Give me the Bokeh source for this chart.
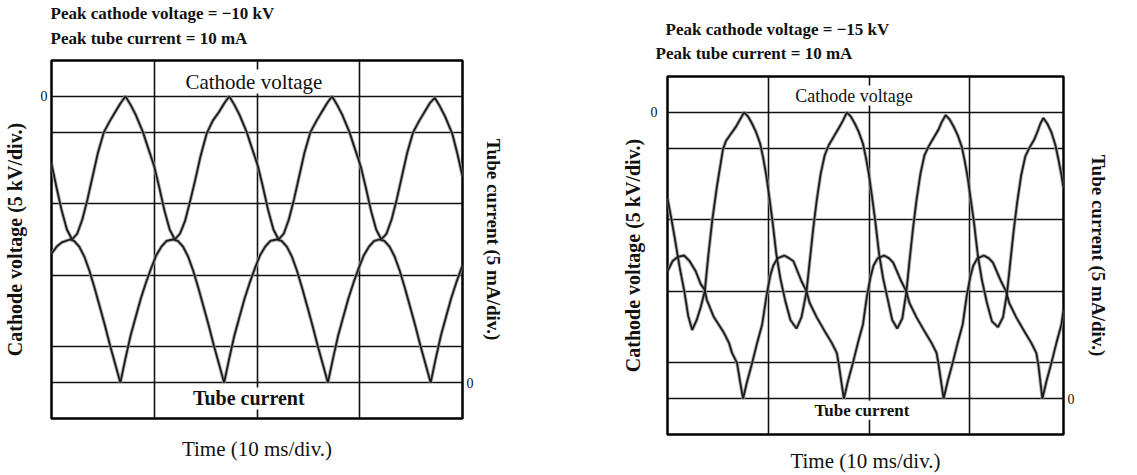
from bokeh.plotting import figure
from bokeh.layouts import row, column
from bokeh.models import Range1d, LinearAxis, FixedTicker, Label, Title
from bokeh.embed import file_html
from bokeh.resources import INLINE

# ---------------- data ----------------
# Left panel: peak cathode voltage = -10 kV, peak tube current = 10 mA
left_v_t = [0.0, 0.5, 1.0, 1.5, 2.0, 2.5, 3.0, 3.5, 4.0, 4.5, 5.1, 5.7, 6.2, 6.7, 7.2, 7.7, 8.2, 8.9, 9.4, 10.0,
            10.5, 11.0, 11.5, 12.0, 12.5, 13.0, 13.5, 14.0, 14.5, 15.1, 15.7, 16.3, 16.8, 17.3, 17.8, 18.3, 19.0,
            19.5, 20.1, 20.6, 21.1, 21.6, 22.1, 22.6, 23.1, 23.6, 24.1, 24.6, 25.2, 25.8, 26.3, 26.8, 27.3, 27.8,
            28.3, 29.0, 29.5, 30.1, 30.6, 31.1, 31.6, 32.1, 32.6, 33.1, 33.6, 34.1, 34.6, 35.2, 35.8, 36.3, 36.8,
            37.3, 37.8, 38.3, 39.0, 39.5, 40.0]
left_v_kv = [-4.7, -6.4, -8.0, -9.3, -10.0, -9.6, -8.6, -7.2, -5.6, -4.0, -2.5, -1.7, -1.1, -0.5, 0.0, -0.6, -1.3,
             -2.5, -3.6, -4.9, -6.4, -8.0, -9.3, -10.0, -9.6, -8.7, -7.3, -5.8, -4.2, -2.6, -1.7, -1.1, -0.5, 0.0,
             -0.6, -1.3, -2.5, -3.6, -4.9, -6.4, -8.0, -9.3, -10.0, -9.6, -8.6, -7.2, -5.6, -4.0, -2.5, -1.7, -1.1,
             -0.5, 0.0, -0.6, -1.3, -2.5, -3.6, -4.9, -6.4, -8.0, -9.3, -10.0, -9.6, -8.6, -7.2, -5.6, -4.0, -2.5,
             -1.7, -1.1, -0.5, -0.1, -0.7, -1.4, -2.6, -4.0, -5.6]
left_i_t = [0.0, 0.5, 1.0, 1.8, 2.2, 2.7, 3.2, 3.7, 4.2, 4.7, 5.2, 5.7, 6.2, 6.7, 7.2, 7.7, 8.2, 8.7, 9.2, 9.7,
            10.2, 10.7, 11.2, 11.8, 12.3, 12.8, 13.3, 13.8, 14.3, 14.8, 15.3, 15.8, 16.3, 16.8, 17.3, 17.8, 18.3,
            18.8, 19.3, 19.8, 20.3, 20.8, 21.3, 21.9, 22.4, 22.9, 23.4, 23.9, 24.4, 24.9, 25.4, 25.9, 26.4, 26.9,
            27.4, 27.9, 28.4, 28.9, 29.4, 29.9, 30.4, 30.9, 31.4, 31.9, 32.4, 32.9, 33.4, 33.9, 34.4, 34.9, 35.4,
            35.9, 36.4, 36.9, 37.4, 37.9, 38.4, 38.9, 39.4, 40.0]
left_i_ma = [9.0, 9.5, 9.8, 10.0, 9.9, 9.5, 8.8, 7.8, 6.6, 5.3, 4.0, 2.6, 1.3, 0.0, 1.7, 3.3, 4.6, 5.9, 7.0, 8.0,
             8.9, 9.5, 9.9, 10.0, 9.9, 9.5, 8.8, 7.8, 6.6, 5.3, 4.0, 2.6, 1.3, 0.0, 1.7, 3.3, 4.6, 5.9, 7.0, 8.0,
             8.9, 9.5, 9.9, 10.0, 9.9, 9.5, 8.8, 7.8, 6.6, 5.3, 4.0, 2.6, 1.3, 0.0, 1.7, 3.3, 4.6, 5.9, 7.0, 8.0,
             8.9, 9.5, 9.9, 10.0, 9.9, 9.5, 8.8, 7.8, 6.6, 5.3, 4.0, 2.6, 1.3, 0.0, 1.7, 3.3, 4.6, 5.9, 7.0, 8.2]

# Right panel: peak cathode voltage = -15 kV, peak tube current = 10 mA
right_v_t = [0.0, 0.35, 0.7, 1.2, 1.67, 2.05, 2.45, 2.9, 3.3, 3.7, 4.05, 4.45, 4.9, 5.5, 5.8, 6.3, 6.8, 7.2, 7.6,
             8.0, 8.4, 8.8, 9.2, 9.5, 9.8, 10.1, 10.4, 10.8, 11.2, 11.7, 12.2, 12.8, 13.3, 13.8, 14.1, 14.45, 14.8,
             15.2, 15.6, 16.0, 16.5, 17.0, 17.4, 17.8, 18.2, 18.6, 19.0, 19.4, 19.7, 20.0, 20.3, 20.6, 21.0, 21.4,
             21.9, 22.3, 22.8, 23.3, 23.7, 24.0, 24.35, 24.7, 25.1, 25.5, 25.9, 26.4, 26.9, 27.2, 27.6, 28.0, 28.4,
             28.8, 29.2, 29.5, 29.8, 30.1, 30.4, 30.8, 31.2, 31.7, 32.2, 32.8, 33.3, 33.7, 34.0, 34.35, 34.7, 35.1,
             35.5, 35.9, 36.4, 36.8, 37.0, 37.3, 37.7, 38.1, 38.5, 38.8, 39.1, 39.3]
right_v_kv = [-6.0, -7.3, -8.7, -10.8, -12.5, -14.2, -15.2, -14.5, -13.6, -12.5, -10.0, -7.5, -5.2, -2.6, -2.0, -1.5,
              -1.0, -0.5, 0.0, -0.3, -0.8, -1.4, -2.2, -3.2, -4.4, -5.9, -7.5, -9.9, -11.6, -13.2, -14.5, -15.1,
              -14.3, -12.5, -10.5, -8.2, -6.2, -4.3, -3.0, -2.3, -1.7, -1.1, -0.6, 0.0, -0.3, -0.8, -1.4, -2.2, -3.2,
              -4.4, -5.9, -7.5, -9.9, -11.6, -13.2, -14.5, -15.1, -14.4, -12.6, -10.5, -8.2, -6.2, -4.3, -3.0, -2.4,
              -1.8, -1.2, -0.7, -0.2, -0.5, -1.0, -1.6, -2.4, -3.4, -4.6, -6.1, -7.6, -10.0, -11.7, -13.3, -14.6,
              -15.0, -14.3, -12.6, -10.6, -8.3, -6.3, -4.4, -3.1, -2.5, -1.9, -1.2, -0.8, -0.4, -0.8, -1.4, -2.3,
              -3.3, -4.4, -5.3]
right_i_t = [0.0, 0.5, 1.0, 1.65, 2.2, 2.8, 3.3, 3.7, 3.9, 4.6, 5.6, 6.1, 6.4, 6.9, 7.2, 7.5, 7.9, 8.4, 8.9, 9.4,
             9.85, 10.2, 10.5, 10.9, 11.6, 12.1, 12.5, 13.3, 13.8, 14.1, 14.8, 15.7, 16.3, 16.8, 17.0, 17.25, 17.5,
             17.9, 18.4, 18.9, 19.4, 19.8, 20.15, 20.45, 20.85, 21.5, 22.0, 22.4, 23.2, 23.7, 24.0, 24.7, 25.6,
             26.2, 26.7, 26.9, 27.15, 27.4, 27.8, 28.3, 28.8, 29.3, 29.7, 30.05, 30.35, 30.75, 31.4, 31.9, 32.3,
             33.1, 33.6, 33.9, 34.6, 35.5, 36.1, 36.6, 36.8, 37.0, 37.2, 37.6, 38.1, 38.6, 39.1, 39.3]
right_i_ma = [8.9, 9.6, 9.9, 10.0, 9.6, 8.9, 8.0, 7.6, 6.9, 5.7, 4.6, 3.9, 3.2, 2.5, 1.2, 0.0, 1.2, 2.5, 3.9, 5.2,
              7.3, 8.6, 9.3, 9.8, 10.0, 9.8, 9.6, 8.2, 7.5, 6.7, 5.7, 4.6, 3.9, 3.2, 2.4, 1.2, 0.0, 1.2, 2.5, 3.9,
              5.2, 7.2, 8.5, 9.3, 9.8, 10.0, 9.8, 9.5, 8.2, 7.5, 6.7, 5.7, 4.6, 3.9, 3.2, 2.4, 1.2, 0.0, 1.2, 2.5,
              3.9, 5.2, 7.2, 8.5, 9.3, 9.8, 10.0, 9.8, 9.5, 8.2, 7.5, 6.7, 5.7, 4.6, 3.9, 3.2, 2.4, 1.2, 0.0, 1.2,
              2.5, 3.9, 5.2, 6.2]

# grid / tick positions
time_grid_ms = [10, 20, 30]
volt_grid_kv = [0, -2.5, -7.5, -12.5, -17.5, -20]
volt_ticks = [0]
curr_ticks = [0]
volt_range = (-22.5, 2.5)
curr_range = (-2.5, 22.5)

titles_left = ["Peak cathode voltage = \u221210 kV", "Peak tube current = 10 mA"]
titles_right = ["Peak cathode voltage = \u221215 kV", "Peak tube current = 10 mA"]

SERIF = "Liberation Serif"
INK = "#111111"


def make_title(txt, off, sto):
    kw = dict(text=txt, align="left", offset=off, text_font=SERIF, text_font_style="bold",
              text_font_size="17px", text_line_height=0.8, text_color=INK)
    try:
        return Title(standoff=sto, **kw)
    except Exception:
        return Title(standoff=0, **kw)


def make_panel(width, height, borders, t_end, vt, vv, it, ii, titles, title_cfg, inner, std):
    bl, br, bt, bb = borders
    p = figure(width=width, height=height, output_backend="svg", toolbar_location=None,
               x_range=Range1d(0, t_end), y_range=Range1d(*volt_range),
               min_border_left=bl, min_border_right=br, min_border_top=bt, min_border_bottom=bb,
               background_fill_color="white", border_fill_color="white")
    p.extra_y_ranges = {"cur": Range1d(*curr_range)}
    p.outline_line_color = "black"
    p.outline_line_width = 2.5

    # grids
    p.xgrid.ticker = FixedTicker(ticks=time_grid_ms)
    p.ygrid.ticker = FixedTicker(ticks=volt_grid_kv)
    for g in (p.xgrid, p.ygrid):
        g.grid_line_color = INK
        g.grid_line_width = 1.6
        g.grid_line_alpha = 1.0

    # axes
    xa = p.xaxis[0]
    xa.ticker = FixedTicker(ticks=[])
    xa.axis_label = "Time (10 ms/div.)"
    xa.axis_line_color = None
    xa.major_tick_line_color = None
    xa.minor_tick_line_color = None
    xa.major_tick_out = 0
    xa.axis_label_text_font = SERIF
    xa.axis_label_text_font_style = "normal"
    xa.axis_label_text_font_size = "21px"
    xa.axis_label_text_color = INK
    xa.axis_label_standoff = std[0]

    ya = p.yaxis[0]
    ya.ticker = FixedTicker(ticks=volt_ticks)
    ya.axis_label = "Cathode voltage (5 kV/div.)"
    ya.axis_line_color = None
    ya.major_tick_line_color = None
    ya.minor_tick_line_color = None
    ya.major_tick_out = 0
    ya.major_label_standoff = std[1]
    ya.major_label_text_font = SERIF
    ya.major_label_text_font_size = "14px"
    ya.major_label_text_color = INK
    ya.axis_label_text_font = SERIF
    ya.axis_label_text_font_style = "bold"
    ya.axis_label_text_font_size = "20px"
    ya.axis_label_text_color = INK
    ya.axis_label_standoff = std[2]

    ra = LinearAxis(y_range_name="cur", ticker=FixedTicker(ticks=curr_ticks),
                    axis_label="Tube current (5 mA/div.)")
    ra.axis_line_color = None
    ra.major_tick_line_color = None
    ra.minor_tick_line_color = None
    ra.major_tick_out = 0
    ra.major_label_standoff = std[3]
    ra.major_label_text_font = SERIF
    ra.major_label_text_font_size = "14px"
    ra.major_label_text_color = INK
    ra.axis_label_text_font = SERIF
    ra.axis_label_text_font_style = "bold"
    ra.axis_label_text_font_size = "19px"
    ra.axis_label_text_color = INK
    ra.axis_label_standoff = std[4]
    p.add_layout(ra, "right")

    # traces: grey halo under black trace
    p.line(vt, vv, line_color="#9a9a9a", line_width=3.6, line_alpha=0.8)
    p.line(it, ii, line_color="#9a9a9a", line_width=3.6, line_alpha=0.8, y_range_name="cur")
    p.line(vt, vv, line_color="#1c1c1c", line_width=1.8)
    p.line(it, ii, line_color="#1c1c1c", line_width=1.8, y_range_name="cur")

    # header lines (closest to the frame first)
    p.title = None
    for txt, (off, sto) in reversed(list(zip(titles, title_cfg))):
        p.add_layout(make_title(txt, off, sto), "above")
    # inner trace names
    for txt, x, y, fs, style in inner:
        p.add_layout(Label(x=x, y=y, text=txt, text_font=SERIF, text_font_size=fs,
                           text_font_style=style, text_baseline="middle", text_align="center",
                           text_color=INK, background_fill_color="white"))
    return p


left = make_panel(590, 475, (50, 128, 60, 57), 40.0, left_v_t, left_v_kv, left_i_t, left_i_ma,
                  titles_left, [(-1, -19.4), (-1, 25.5)],
                  [("Cathode voltage", 19.7, 1.03, "21px", "normal"),
                   ("Tube current", 19.2, -21.1, "20px", "bold")],
                  (18, 4, 12, 4, 6))
right = make_panel(547, 475, (77, 74, 76, 41), 39.3, right_v_t, right_v_kv, right_i_t, right_i_ma,
                   titles_right, [(-2, -20), (-12, 26.5)],
                   [("Cathode voltage", 18.5, 1.17, "18px", "normal"),
                    ("Tube current", 19.3, -20.8, "17px", "bold")],
                   (14, 10, 4, 4, 10))

layout = row(column(left), column(right))
open("out.html", "w").write(file_html(layout, INLINE))
